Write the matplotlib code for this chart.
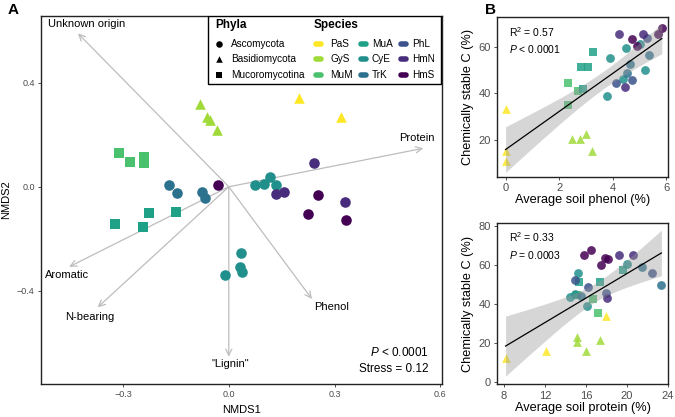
"""NMDS of fungal necromass chemistry (A) and stable C vs soil phenol / protein (B)."""

import numpy as np
import matplotlib
matplotlib.use("Agg")
import matplotlib.pyplot as plt
from matplotlib.patches import Rectangle

plt.rcParams["font.family"] = ["Liberation Sans", "DejaVu Sans"]
plt.rcParams["mathtext.fontset"] = "custom"
plt.rcParams["mathtext.rm"] = "Liberation Sans"
plt.rcParams["mathtext.it"] = "Liberation Sans:italic"

# ---- legend groups ----
species = ["PaS", "GyS", "MuM", "MuA", "CyE", "TrK", "PhL", "HmN", "HmS"]
species_colors = ["#FDE725", "#A0DA39", "#4AC16D", "#1FA187", "#21908C",
                  "#2C728E", "#3B528B", "#472D7B", "#440154"]
phyla = ["Ascomycota", "Basidiomycota", "Mucoromycotina"]
phyla_markers = ["o", "^", "s"]
species_phylum = {"PaS": "Basidiomycota", "GyS": "Basidiomycota",
                  "MuM": "Mucoromycotina", "MuA": "Mucoromycotina",
                  "CyE": "Ascomycota", "TrK": "Ascomycota", "PhL": "Ascomycota",
                  "HmN": "Ascomycota", "HmS": "Ascomycota"}

# ---- panel A: NMDS scores ----
nmds_sp = (["PaS"] * 2 + ["GyS"] * 4 + ["MuM"] * 4 + ["MuA"] * 4 + ["TrK"] * 4
           + ["CyE"] * 8 + ["HmN"] * 4 + ["HmS"] * 4)
nmds1 = [0.198, 0.318,
         -0.081, -0.062, -0.053, -0.034,
         -0.311, -0.280, -0.240, -0.240,
         -0.322, -0.227, -0.244, -0.151,
         -0.171, -0.148, -0.077, -0.067,
         0.075, 0.100, 0.117, 0.134, 0.035, 0.032, 0.038, -0.010,
         0.134, 0.157, 0.243, 0.330,
         -0.031, 0.254, 0.224, 0.332]
nmds2 = [0.342, 0.267,
         0.317, 0.269, 0.257, 0.218,
         0.131, 0.096, 0.114, 0.091,
         -0.143, -0.102, -0.156, -0.096,
         0.007, -0.023, -0.019, -0.045,
         0.007, 0.009, 0.038, 0.007, -0.256, -0.308, -0.329, -0.338,
         -0.029, -0.020, 0.090, -0.060,
         0.007, -0.032, -0.106, -0.128]

vec_names = ["Unknown origin", "Protein", "Aromatic", "N-bearing", '"Lignin"', "Phenol"]
vec_x = [-0.428, 0.552, -0.453, -0.372, 0.0, 0.236]
vec_y = [0.590, 0.148, -0.308, -0.464, -0.654, -0.432]

# ---- panel B: stable C vs phenol ----
phenol_sp = (["PaS"] * 3 + ["GyS"] * 4 + ["MuM"] * 3 + ["MuA"] * 4 + ["CyE"] * 6
             + ["HmN"] * 3 + ["HmS"] * 4 + ["PhL"] * 3 + ["TrK"] * 3)
phenol_x = [0, 0, 0,
            2.47, 2.78, 3.00, 3.24,
            2.34, 2.69, 2.34,
            2.88, 2.82, 3.07, 3.28,
            3.88, 3.78, 4.50, 5.00, 5.20, 4.40,
            4.25, 5.11, 4.44,
            4.71, 4.90, 5.67, 5.83,
            5.27, 4.11, 4.71,
            5.37, 4.65, 4.52]
phenol_c = [33.2, 15.0, 10.7,
            20.4, 20.4, 22.5, 15.0,
            44.2, 41.0, 35.1,
            41.8, 51.4, 51.4, 57.7,
            55.3, 38.6, 59.3, 61.0, 49.8, 46.3,
            65.6, 65.6, 42.8,
            63.2, 60.3, 65.7, 68.1,
            63.9, 44.4, 45.8,
            56.5, 52.4, 48.6]

# ---- panel B: stable C vs protein ----
protein_sp = (["PaS"] * 3 + ["GyS"] * 4 + ["MuA"] * 3 + ["MuM"] * 3 + ["HmS"] * 5
              + ["HmN"] * 3 + ["CyE"] * 5 + ["PhL"] * 4 + ["TrK"] * 3)
protein_x = [8.16, 12.09, 17.94,
             15.14, 15.14, 15.99, 17.35,
             15.34, 17.35, 19.62,
             15.08, 16.70, 17.19,
             16.47, 15.79, 17.84, 18.16, 17.42,
             19.23, 20.60, 18.10,
             20.00, 15.18, 14.43, 14.92, 16.12,
             22.45, 14.92, 16.21, 17.94,
             21.47, 23.36, 15.50]
protein_c = [12.0, 15.9, 33.8,
             22.8, 20.6, 15.9, 21.4,
             51.4, 51.4, 57.4,
             44.5, 42.3, 35.1,
             67.7, 65.1, 63.4, 62.9, 59.9,
             65.1, 65.1, 42.8,
             60.5, 55.7, 43.7, 45.1, 38.9,
             56.0, 52.3, 48.5, 45.4,
             59.1, 49.7, 44.2]

TICK_GREY = "#4D4D4D"


def color_of(sp):
    return species_colors[species.index(sp)]


def marker_of(sp):
    return phyla_markers[phyla.index(species_phylum[sp])]


def scatter_by_species(ax, sp_list, xs, ys, size, alpha):
    sp_arr = np.array(sp_list)
    xs, ys = np.asarray(xs), np.asarray(ys)
    for sp in species:
        m = sp_arr == sp
        if not m.any():
            continue
        ax.scatter(xs[m], ys[m], s=size, color=color_of(sp), marker=marker_of(sp),
                   alpha=alpha, linewidths=0, zorder=3)


def fit_with_band(ax, xs, ys):
    # lm fit with 95% confidence band, like geom_smooth(method = "lm")
    xs, ys = np.asarray(xs, float), np.asarray(ys, float)
    n = len(xs)
    b, a = np.polyfit(xs, ys, 1)
    grid = np.linspace(xs.min(), xs.max(), 80)
    pred = a + b * grid
    resid = ys - (a + b * xs)
    s = np.sqrt((resid ** 2).sum() / (n - 2))
    se = s * np.sqrt(1 / n + (grid - xs.mean()) ** 2 / ((xs - xs.mean()) ** 2).sum())
    t = 2.04
    ax.fill_between(grid, pred - t * se, pred + t * se, color="#999999", alpha=0.4,
                    linewidth=0, zorder=4)
    ax.plot(grid, pred, color="black", lw=0.9, zorder=5)


def style_axes(ax, label_size):
    for sp in ax.spines.values():
        sp.set_color("#222222")
        sp.set_linewidth(1.0)
    ax.tick_params(colors="#333333", labelcolor=TICK_GREY, length=2.5, width=0.6,
                   labelsize=label_size, pad=2)


fig = plt.figure(figsize=(6.75, 4.17), dpi=100)

# ================= panel A =================
axA = fig.add_axes([0.0607, 0.0791, 0.5941, 0.8825])
axA.set_xlim(-0.533, 0.605)
axA.set_ylim(-0.759, 0.657)
for vx, vy, name in zip(vec_x, vec_y, vec_names):
    axA.annotate("", xy=(vx, vy), xytext=(0, 0),
                 arrowprops=dict(arrowstyle="->,head_length=0.45,head_width=0.22",
                                 color="#BDBDBD", lw=0.9, shrinkA=0, shrinkB=0), zorder=1)
label_offsets = {"Unknown origin": (6.5, 6.5), "Protein": (-4.3, 7.6), "Aromatic": (-1.7, -5.8),
                 "N-bearing": (-5.5, -6.8), '"Lignin"': (1, -5.5), "Phenol": (13.9, -5.5)}
for vx, vy, name in zip(vec_x, vec_y, vec_names):
    axA.annotate(name, xy=(vx, vy), xytext=label_offsets[name], textcoords="offset points",
                 ha="center", va="center", fontsize=8, color="black")

scatter_by_species(axA, nmds_sp, nmds1, nmds2, size=58, alpha=1.0)

axA.set_xticks([-0.3, 0.0, 0.3, 0.6])
axA.set_xticklabels(["\u22120.3", "0.0", "0.3", "0.6"])
axA.set_yticks([-0.4, 0.0, 0.4])
axA.set_yticklabels(["\u22120.4", "0.0", "0.4"])
style_axes(axA, 6.5)
axA.set_xlabel("NMDS1", fontsize=8)
axA.xaxis.set_label_coords(0.5, -0.058)
axA.set_ylabel("NMDS2", fontsize=8, labelpad=4)
axA.text(0.967, 0.085, "$P$ < 0.0001", transform=axA.transAxes, ha="right", va="center", fontsize=8.5)
axA.text(0.967, 0.04, "Stress = 0.12", transform=axA.transAxes, ha="right", va="center", fontsize=8.5)

# legend box, drawn in axes fraction
axA.add_patch(Rectangle((0.417, 0.814), 0.58, 0.186, transform=axA.transAxes,
                        facecolor="white", edgecolor="black", lw=1.0, zorder=6))
axA.text(0.434, 0.975, "Phyla", transform=axA.transAxes, fontsize=8.5, fontweight="bold",
         va="center", ha="left", zorder=7)
axA.text(0.679, 0.975, "Species", transform=axA.transAxes, fontsize=8.5, fontweight="bold",
         va="center", ha="left", zorder=7)
row_y = [0.925, 0.882, 0.841]
for i, (ph, mk) in enumerate(zip(phyla, phyla_markers)):
    axA.scatter([0.444], [row_y[i]], transform=axA.transAxes, marker=mk, s=22,
                color="black", linewidths=0, zorder=7, clip_on=False)
    axA.text(0.474, row_y[i], ph, transform=axA.transAxes, fontsize=7.2, va="center", zorder=7)
col_key = [0.692, 0.804, 0.904]
col_txt = [0.721, 0.825, 0.926]
for i, sp in enumerate(species):
    c, r = divmod(i, 3)
    axA.plot([col_key[c] - 0.007, col_key[c] + 0.007], [row_y[r], row_y[r]],
             transform=axA.transAxes, color=color_of(sp), lw=4, solid_capstyle="round",
             zorder=7, clip_on=False)
    axA.text(col_txt[c], row_y[r], sp, transform=axA.transAxes, fontsize=7.2,
             va="center", zorder=7)

# ================= panel B top =================
axB1 = fig.add_axes([0.7367, 0.5763, 0.2529, 0.3822])
scatter_by_species(axB1, phenol_sp, phenol_x, phenol_c, size=40, alpha=0.85)
fit_with_band(axB1, phenol_x, phenol_c)
axB1.set_xlim(-0.31, 6.06)
axB1.set_ylim(4.0, 72.7)
axB1.set_xticks([0, 2, 4, 6])
axB1.set_yticks([20, 40, 60])
style_axes(axB1, 8)
axB1.set_xlabel("Average soil phenol (%)", fontsize=9.2, labelpad=1)
axB1.set_ylabel("Chemically stable C (%)", fontsize=9.2, labelpad=3)
axB1.text(0.07, 0.91, "R$^2$ = 0.57", transform=axB1.transAxes, fontsize=7.5, va="center")
axB1.text(0.07, 0.80, "$P$ < 0.0001", transform=axB1.transAxes, fontsize=7.5, va="center")

# ================= panel B bottom =================
axB2 = fig.add_axes([0.7367, 0.0784, 0.2529, 0.3876])
scatter_by_species(axB2, protein_sp, protein_x, protein_c, size=40, alpha=0.85)
fit_with_band(axB2, protein_x, protein_c)
axB2.set_xlim(7.35, 24.0)
axB2.set_ylim(-1.4, 81.7)
axB2.set_xticks([8, 12, 16, 20, 24])
axB2.set_yticks([0, 20, 40, 60, 80])
style_axes(axB2, 8)
axB2.set_xlabel("Average soil protein (%)", fontsize=9.2, labelpad=1)
axB2.set_ylabel("Chemically stable C (%)", fontsize=9.2, labelpad=3)
axB2.text(0.07, 0.91, "R$^2$ = 0.33", transform=axB2.transAxes, fontsize=7.5, va="center")
axB2.text(0.07, 0.80, "$P$ = 0.0003", transform=axB2.transAxes, fontsize=7.5, va="center")

fig.text(0.012, 0.975, "A", fontsize=11, fontweight="bold", va="center")
fig.text(0.718, 0.975, "B", fontsize=11, fontweight="bold", va="center")

fig.savefig("out.png", dpi=100)
plt.close(fig)
